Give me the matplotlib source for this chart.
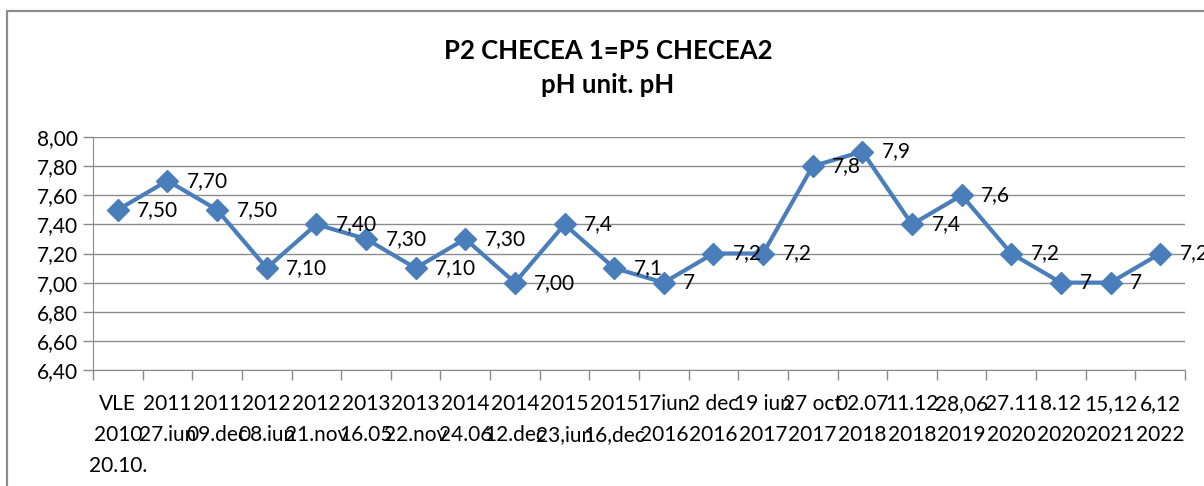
import numpy as np
import matplotlib
matplotlib.use('Agg')
import matplotlib.pyplot as plt
from matplotlib.patches import Rectangle
from matplotlib.ticker import FixedLocator, FuncFormatter

plt.rcParams['font.family'] = ['Lato', 'DejaVu Sans']

# categories (Excel wraps them, so line breaks are put in by hand)
categories = [
    'VLE\n2010\n20.10.', '2011\n27.iun', '2011\n09.dec', '2012\n08.iun',
    '2012\n21.nov', '2013\n16.05', '2013\n22.nov', '2014\n24.06',
    '2014\n12.dec', '2015\n23,iun', '2015\n16,dec', '17iun\n2016',
    '2 dec\n2016', '19 iun\n2017', '27 oct\n2017', '02.07\n2018',
    '11.12\n2018', '28,06\n2019', '27.11\n2020', '8.12\n2020',
    '15,12\n2021', '6,12\n2022',
]
ph_values = [7.50, 7.70, 7.50, 7.10, 7.40, 7.30, 7.10, 7.30, 7.00, 7.40, 7.10,
             7.00, 7.20, 7.20, 7.80, 7.90, 7.40, 7.60, 7.20, 7.00, 7.00, 7.20]
# data labels as shown in the chart
value_labels = ['7,50', '7,70', '7,50', '7,10', '7,40', '7,30', '7,10', '7,30',
                '7,00', '7,4', '7,1', '7', '7,2', '7,2', '7,8', '7,9', '7,4',
                '7,6', '7,2', '7', '7', '7,2']

blue = '#4a7ebb'
grid_gray = '#8c8c8c'
fs = 15

W, H = 1204, 486
fig = plt.figure(figsize=(W / 100, H / 100), dpi=100)
ax = fig.add_axes([93 / W, 1 - 370 / H, (1185 - 93) / W, (370 - 137) / H])

# chart area border (runs off the image to the right and bottom)
fig.patches.append(Rectangle((7 / W, -0.1), 1.2, 1 - 11 / H + 0.1,
                             transform=fig.transFigure, fill=False,
                             edgecolor='#8c8c8c', lw=1.6))

x = np.arange(len(categories))
ax.plot(x, ph_values, color=blue, lw=3.0, marker='D', markersize=11,
        markerfacecolor=blue, markeredgecolor=blue, zorder=3, clip_on=False)

for xi, yi, lab in zip(x, ph_values, value_labels):
    ax.annotate(lab, (xi, yi), xytext=(14, 0), textcoords='offset points',
                ha='left', va='center', fontsize=fs, color='black', zorder=4)

ax.set_xlim(-0.5, len(categories) - 0.5)
ax.set_ylim(6.4, 8.0)
ax.set_yticks(np.arange(6.4, 8.01, 0.2))
ax.yaxis.set_major_formatter(FuncFormatter(lambda v, p: f'{v:.2f}'.replace('.', ',')))
ax.yaxis.grid(True, color=grid_gray, lw=1.0)
ax.set_axisbelow(True)

ax.set_xticks(x)
ax.set_xticklabels(categories, fontsize=fs, linespacing=1.7, va='top')
ax.xaxis.set_minor_locator(FixedLocator(np.arange(-0.5, len(categories), 1.0)))
ax.tick_params(axis='x', which='major', length=0, pad=17)
ax.tick_params(axis='x', which='minor', length=7, color=grid_gray, width=1.0)
ax.tick_params(axis='y', length=7, color=grid_gray, width=1.0, labelsize=fs, pad=4)

for s in ['top', 'right']:
    ax.spines[s].set_visible(False)
ax.spines['left'].set_color(grid_gray)
ax.spines['bottom'].set_color(grid_gray)

fig.text(0.505, 1 - 51 / H, 'P2 CHECEA 1=P5 CHECEA2', ha='center', va='center',
         fontsize=18.5, fontweight='bold')
fig.text(0.505, 1 - 85 / H, 'pH unit. pH', ha='center', va='center',
         fontsize=18.5, fontweight='bold')

fig.savefig('out.png', dpi=100, facecolor='white')
